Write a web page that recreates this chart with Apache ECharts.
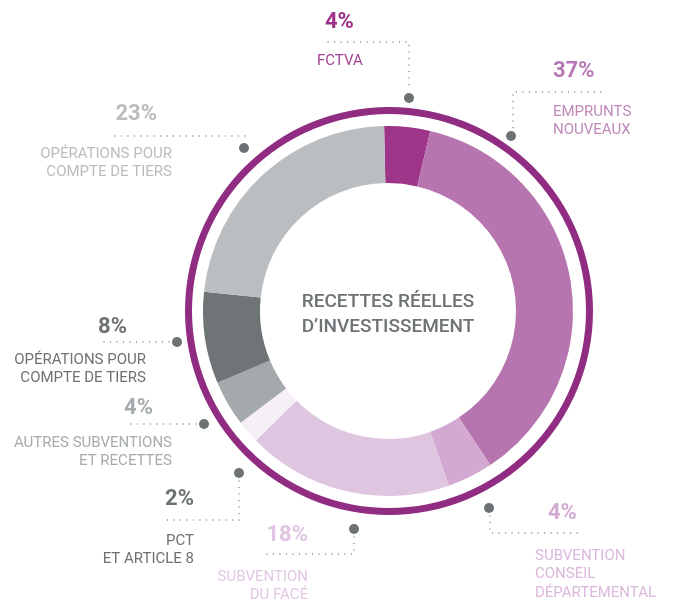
<!DOCTYPE html>
<html>
<head>
<meta charset="utf-8">
<script src="https://cdn.jsdelivr.net/npm/echarts@6/dist/echarts.min.js"></script>
<style>
  html, body { margin: 0; padding: 0; background: #fff; }
  #chart { width: 676px; height: 601px; }
</style>
</head>
<body>
<div id="chart"></div>
<script>
// données
const names = ['FCTVA', 'EMPRUNTS\nNOUVEAUX', 'SUBVENTION\nCONSEIL\nDÉPARTEMENTAL', 'SUBVENTION\nDU FACÉ',
  'PCT\nET ARTICLE 8', 'AUTRES SUBVENTIONS\nET RECETTES', 'OPÉRATIONS POUR\nCOMPTE DE TIERS', 'OPÉRATIONS POUR\nCOMPTE DE TIERS'];
const values = [4, 37, 4, 18, 2, 4, 8, 23];
const centerTitle = 'RECETTES RÉELLES\nD’INVESTISSEMENT';

// styles
const sliceColors = ['#9e3589', '#b675af', '#d3a9d1', '#dfc6e0', '#f7eff7', '#a4a9ac', '#6f7477', '#bbbec0'];
const pctColors = ['#9b3188', '#b878b3', '#d3abd3', '#e0c6e2', '#6d7275', '#a6abae', '#6d7275', '#b9bdbf'];
const textColors = ['#a04392', '#c08abb', '#dcb8dc', '#e2c8e3', '#6d7275', '#a6abae', '#6d7275', '#b9bdbf'];

// position des étiquettes (dot, ligne pointillée, pourcentage, libellé)
const callouts = [
  { dot: [409, 98], line: [[328, 42], [409, 42], [409, 90]], pct: [325, 22, 'left'], lab: [317, 61, 'left'] },
  { dot: [511, 136], line: [[601, 92], [513, 92], [513, 128]], pct: [553, 71, 'left'], lab: [553, 112, 'left'] },
  { dot: [489, 508], line: [[490, 516], [490, 533], [578, 533]], pct: [548, 513, 'left'], lab: [535, 556, 'left'] },
  { dot: [354, 529], line: [[354, 537], [354, 554], [264, 554]], pct: [308, 535, 'right'], lab: [308, 577, 'right'] },
  { dot: [239, 473], line: [[239, 481], [239, 520], [161, 520]], pct: [194, 499, 'right'], lab: [194, 541, 'right'] },
  { dot: [204, 424], line: [[196, 424], [125, 424]], pct: [153, 408, 'right'], lab: [172, 443, 'right'] },
  { dot: [177, 342], line: [[169, 342], [98, 342]], pct: [127, 327, 'right'], lab: [146, 360, 'right'] },
  { dot: [244, 148], line: [[245, 136], [114, 136]], pct: [157, 114, 'right'], lab: [172, 154, 'right'] }
];

const FONT = 'Roboto, "Noto Sans", sans-serif';
const LH = 18.5;

let graphics = [];
callouts.forEach((c, i) => {
  graphics.push({
    type: 'polyline', silent: true,
    shape: { points: c.line },
    style: { stroke: '#7d8285', lineWidth: 1.3, lineDash: [0.1, 6.4], lineCap: 'round', fill: null }
  });
  graphics.push({
    type: 'circle', silent: true,
    shape: { cx: c.dot[0], cy: c.dot[1], r: 5 },
    style: { fill: '#6d7275' }
  });
  graphics.push({
    type: 'text', silent: true,
    style: {
      text: values[i] + '%', x: c.pct[0], y: c.pct[1],
      textAlign: c.pct[2], textVerticalAlign: 'middle',
      font: 'bold 22px ' + FONT, fill: pctColors[i]
    }
  });
  graphics.push({
    type: 'text', silent: true,
    style: {
      text: names[i], x: c.lab[0], y: c.lab[1] - LH / 2,
      textAlign: c.lab[2], textVerticalAlign: 'top', lineHeight: LH,
      font: '15px ' + FONT, fill: textColors[i]
    }
  });
});

graphics.push({
  type: 'text', silent: true,
  style: {
    text: centerTitle, x: 388, y: 290,
    textAlign: 'center', textVerticalAlign: 'top', lineHeight: 25,
    font: '500 19px ' + FONT, fill: '#6d7275'
  }
});

let chart = echarts.init(document.getElementById('chart'));
let option = {
  animation: false,
  series: [
    {
      type: 'pie',
      silent: true,
      center: [389, 311],
      radius: [197, 204],
      label: { show: false },
      labelLine: { show: false },
      itemStyle: { color: '#912c83' },
      data: [{ value: 1, name: 'ring' }]
    },
    {
      type: 'pie',
      silent: true,
      center: [388, 311],
      radius: [128, 185],
      startAngle: 91.2,
      clockwise: true,
      label: { show: false },
      labelLine: { show: false },
      data: values.map((v, i) => ({ value: v, name: names[i] + '#' + i, itemStyle: { color: sliceColors[i] } }))
    }
  ],
  graphic: graphics
};
chart.setOption(option);
</script>
</body>
</html>
